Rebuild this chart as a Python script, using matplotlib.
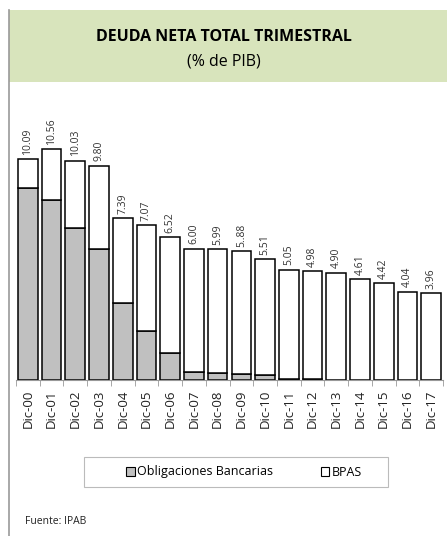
import numpy as np
import matplotlib.pyplot as plt
from matplotlib.patches import Rectangle, Patch
from matplotlib.lines import Line2D

plt.rcParams['font.family'] = ['Open Sans', 'DejaVu Sans']

years = ['Dic-00', 'Dic-01', 'Dic-02', 'Dic-03', 'Dic-04', 'Dic-05', 'Dic-06',
         'Dic-07', 'Dic-08', 'Dic-09', 'Dic-10', 'Dic-11', 'Dic-12', 'Dic-13',
         'Dic-14', 'Dic-15', 'Dic-16', 'Dic-17']
total = [10.09, 10.56, 10.03, 9.80, 7.39, 7.07, 6.52, 6.00, 5.99, 5.88, 5.51,
         5.05, 4.98, 4.90, 4.61, 4.42, 4.04, 3.96]
total_labels = ['10.09', '10.56', '10.03', '9.80', '7.39', '7.07', '6.52', '6.00',
                '5.99', '5..88', '5.51', '5.05', '4.98', '4.90', '4.61', '4.42',
                '4.04', '3.96']
obligaciones = [8.77, 8.22, 6.94, 5.97, 3.52, 2.24, 1.23, 0.38, 0.33, 0.26, 0.23,
                0.05, 0.03, 0.0, 0.0, 0.0, 0.0, 0.0]
bpas = [t - o for t, o in zip(total, obligaciones)]

W, H = 447, 536
fig = plt.figure(figsize=(W / 100, H / 100), dpi=100)

# title band
fig.patches.append(Rectangle((9 / W, 1 - 82 / H), 1 - 9 / W, 72 / H,
                             transform=fig.transFigure, facecolor='#D8E4BC',
                             edgecolor='none'))
fig.lines.append(Line2D([9 / W, 9 / W], [0, 1 - 10 / H], transform=fig.transFigure,
                        color='#999999', lw=1.2))
fig.text(0.5, 1 - 37 / H, 'DEUDA NETA TOTAL TRIMESTRAL', ha='center', va='center',
         fontsize=11.5, fontweight='bold', color='black')
fig.text(0.5, 1 - 61 / H, '(% de PIB)', ha='center', va='center',
         fontsize=11.5, color='black')

ax = fig.add_axes([16 / W, 1 - 380 / H, 427 / W, 280 / H])
x = np.arange(len(years))
w = 0.83
ax.bar(x, obligaciones, w, color='#C0C0C0', edgecolor='black', lw=1.1)
ax.bar(x, bpas, w, bottom=obligaciones, color='white', edgecolor='black', lw=1.1)

for xi, t, lab in zip(x, total, total_labels):
    ax.text(xi, t + 0.2, lab, rotation=90, ha='center', va='bottom',
            fontsize=7.5, color='#333333')

ax.set_xlim(-0.5, len(years) - 0.5)
ax.set_ylim(0, 12.8)
for s in ['top', 'right', 'left']:
    ax.spines[s].set_visible(False)
ax.spines['bottom'].set_color('#999999')
ax.set_yticks([])
ax.set_xticks(x)
ax.set_xticklabels(years, rotation=90, fontsize=9.5, color='#222222')
ax.tick_params(axis='x', which='major', length=0, pad=7)
ax.set_xticks(np.arange(-0.5, len(years), 1), minor=True)
ax.tick_params(axis='x', which='minor', length=4, color='#999999')

# legend
fig.patches.append(Rectangle((84 / W, 1 - 487 / H), 304 / W, 30 / H,
                             transform=fig.transFigure, facecolor='white',
                             edgecolor='#BBBBBB', lw=0.8))
handles = [Patch(facecolor='#C0C0C0', edgecolor='black', lw=0.8),
           Patch(facecolor='white', edgecolor='black', lw=0.8)]
fig.legend(handles, ['Obligaciones Bancarias', 'BPAS'], loc='center',
           bbox_to_anchor=(244 / W, 1 - 472 / H), ncol=2, frameon=False,
           fontsize=9, handlelength=0.7, handleheight=0.7, handletextpad=0.2,
           columnspacing=3.8)

fig.text(25 / W, 1 - 521 / H, 'Fuente: IPAB', ha='left', va='center', fontsize=7.5,
         color='#222222')

fig.savefig('out.png', dpi=100)
